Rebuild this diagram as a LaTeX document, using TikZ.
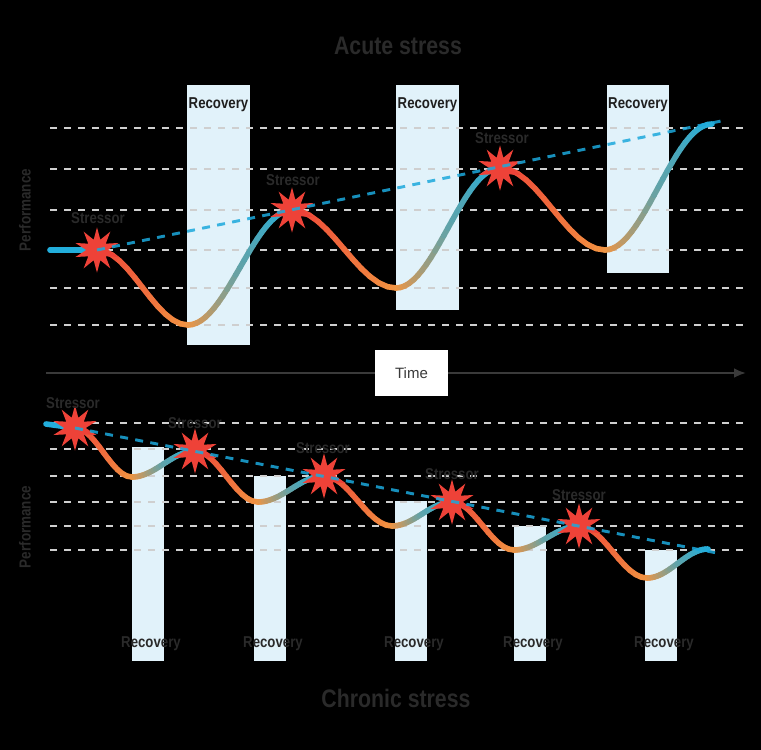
\documentclass[tikz,border=0pt]{standalone}
\usepackage{fontspec}
\setmainfont{Liberation Sans}
\newfontfamily\narrowfont[FakeStretch=0.84]{Liberation Sans}
\usepackage{tikz}
\usetikzlibrary{arrows.meta}
\usetikzlibrary{shapes.geometric}
\usetikzlibrary{positioning}

\definecolor{burstred}{HTML}{EE4238}
\definecolor{dipor}{HTML}{F29441}
\definecolor{midteal}{HTML}{62A3A8}
\definecolor{peakblue}{HTML}{22AEDC}
\definecolor{recfill}{HTML}{E1F2FA}
\definecolor{gridgray}{HTML}{CFCFCF}
\definecolor{trendblue}{HTML}{1CA9DC}
\definecolor{inkgray}{HTML}{2A2A2A}
\definecolor{axisgray}{HTML}{3A3A3A}

% cosine shaped piece from (#1,#2) to (#3,#4), parameter #5..#6, colour #7 -> #8
\newcommand{\curvepiece}[8]{%
  \foreach \k in {1,...,12}{
    \pgfmathsetmacro{\ta}{#5+(#6-#5)*(\k-1)/12}
    \pgfmathsetmacro{\tb}{#5+(#6-#5)*\k/12}
    \pgfmathtruncatemacro{\mixp}{100*(\k-0.5)/12}
    \draw[wavepen,draw=#8!\mixp!#7]
      ({#1+(#3-#1)*\ta},{#2+(#4-#2)*(1-cos(180*\ta))/2}) --
      ({#1+(#3-#1)*\tb},{#2+(#4-#2)*(1-cos(180*\tb))/2});
  }}
% stressor -> dip -> next peak
\newcommand{\wave}[6]{%
  \curvepiece{#1}{#2}{#3}{#4}{0}{1}{burstred}{dipor}
  \curvepiece{#3}{#4}{#5}{#6}{0}{0.5}{dipor}{midteal}
  \curvepiece{#3}{#4}{#5}{#6}{0.5}{1}{midteal}{peakblue}}

\begin{document}
\begin{tikzpicture}[
  x=0.75pt, y=-0.75pt,
  > = {Latex[length=9pt,width=7.5pt]},
  wavepen/.style = {line width=4.2pt, line cap=round},
  levelline/.style = {gridgray, line width=1.5pt, dash pattern=on 5.5pt off 5pt},
  trendline/.style = {trendblue, line width=2.2pt, dash pattern=on 6pt off 5.5pt, opacity=0.85},
  recbox/.style = {fill=recfill},
  axisline/.style = {axisgray, line width=1.8pt},
  burst/.style = {star, star points=10, star point ratio=2.1, minimum size=34pt, inner sep=0pt, fill=burstred},
  lbl/.style = {text=inkgray, inner sep=0pt, font=\narrowfont\bfseries\fontsize{11.8pt}{13pt}\selectfont},
  reclbl/.style = {lbl, text=black!88},
  perflbl/.style = {lbl, rotate=90, font=\narrowfont\bfseries\fontsize{12pt}{14pt}\selectfont},
  heading/.style = {text=inkgray, font=\narrowfont\bfseries\fontsize{19pt}{22pt}\selectfont},
  timebox/.style = {fill=white, text=axisgray, minimum width=54.75pt, minimum height=34.5pt, font=\fontsize{11.25pt}{13pt}\selectfont}
  ]
	\fill[black] (0,0) rectangle (761,750);

	% recovery bars
	\fill[recbox] (187,85) rectangle (250,345);
	\fill[recbox] (396,85) rectangle (459,310);
	\fill[recbox] (607,85) rectangle (669,273);
	\fill[recbox] (132,447) rectangle (164,661);
	\fill[recbox] (254,476) rectangle (286,661);
	\fill[recbox] (395,501) rectangle (427,661);
	\fill[recbox] (514,526) rectangle (546,661);
	\fill[recbox] (645,550) rectangle (677,661);

	% performance levels
	\foreach \y in {128,169,210,250,288,325,423,449,476,502,526,550}
		\draw[levelline] (50,\y) -- (745,\y);

	% time axis
	\coordinate (axstart) at (46,373);
	\coordinate (axend) at (746,373);
	\draw[axisline,->] (axstart) -- (axend);
	\node[timebox] (timelbl) at (411.5,373) {Time};

	% stressors
	\coordinate (@A1) at (97,250);
	\coordinate (@A2) at (292,210);
	\coordinate (@A3) at (500,168);
	\coordinate (@C1) at (75,428);
	\coordinate (@C2) at (195,451);
	\coordinate (@C3) at (324,476);
	\coordinate (@C4) at (452,502);
	\coordinate (@C5) at (579,526);
	\coordinate (startA) at (50,250);
	\coordinate (startC) at (46,424);
	\coordinate (trendAend) at (726,120);
	\coordinate (trendCend) at (717,553);

	% acute curve
	\draw[wavepen,peakblue] (startA) -- (@A1);
	\wave{97}{250}{188}{325}{292}{210}
	\wave{292}{210}{396}{288}{500}{168}
	\wave{500}{168}{605}{250}{712}{124}

	% chronic curve
	\draw[wavepen,peakblue] (startC) -- (@C1);
	\wave{75}{428}{132}{477}{195}{451}
	\wave{195}{451}{258}{502}{324}{476}
	\wave{324}{476}{392}{526}{452}{502}
	\wave{452}{502}{514}{550}{579}{526}
	\wave{579}{526}{647}{578}{708}{549}

	\node[burst] (sA1) at (@A1) {};
	\node[burst] (sA2) at (@A2) {};
	\node[burst] (sA3) at (@A3) {};
	\node[burst] (sC1) at (@C1) {};
	\node[burst] (sC2) at (@C2) {};
	\node[burst] (sC3) at (@C3) {};
	\node[burst] (sC4) at (@C4) {};
	\node[burst] (sC5) at (@C5) {};

	\draw[trendline] (sA1.center) -- (trendAend);
	\draw[trendline] (sC1.center) -- (trendCend);

	% texts
	\node[heading] (acutettl) at (398,46) {Acute stress};
	\node[heading] (chronicttl) at (396,698) {Chronic stress};
	\node[perflbl] (perfA) at (25,210) {Performance};
	\node[perflbl] (perfC) at (25,527) {Performance};

	\node[lbl] (lA1) at (98,218) {Stressor};
	\node[lbl] (lA2) at (293,180) {Stressor};
	\node[lbl] (lA3) at (502,138) {Stressor};
	\node[lbl] (lC1) at (73,403) {Stressor};
	\node[lbl] (lC2) at (195,423) {Stressor};
	\node[lbl] (lC3) at (323,448) {Stressor};
	\node[lbl] (lC4) at (452,474) {Stressor};
	\node[lbl] (lC5) at (579,495) {Stressor};

	\node[reclbl] (rA1) at (218.5,105) {Recovery};
	\node[reclbl] (rA2) at (427.5,105) {Recovery};
	\node[reclbl] (rA3) at (638,105) {Recovery};
	\node[lbl] (rC1) at (151,644) {Recovery};
	\node[lbl] (rC2) at (273,644) {Recovery};
	\node[lbl] (rC3) at (414,644) {Recovery};
	\node[lbl] (rC4) at (533,644) {Recovery};
	\node[lbl] (rC5) at (664,644) {Recovery};

\end{tikzpicture}
\end{document}
